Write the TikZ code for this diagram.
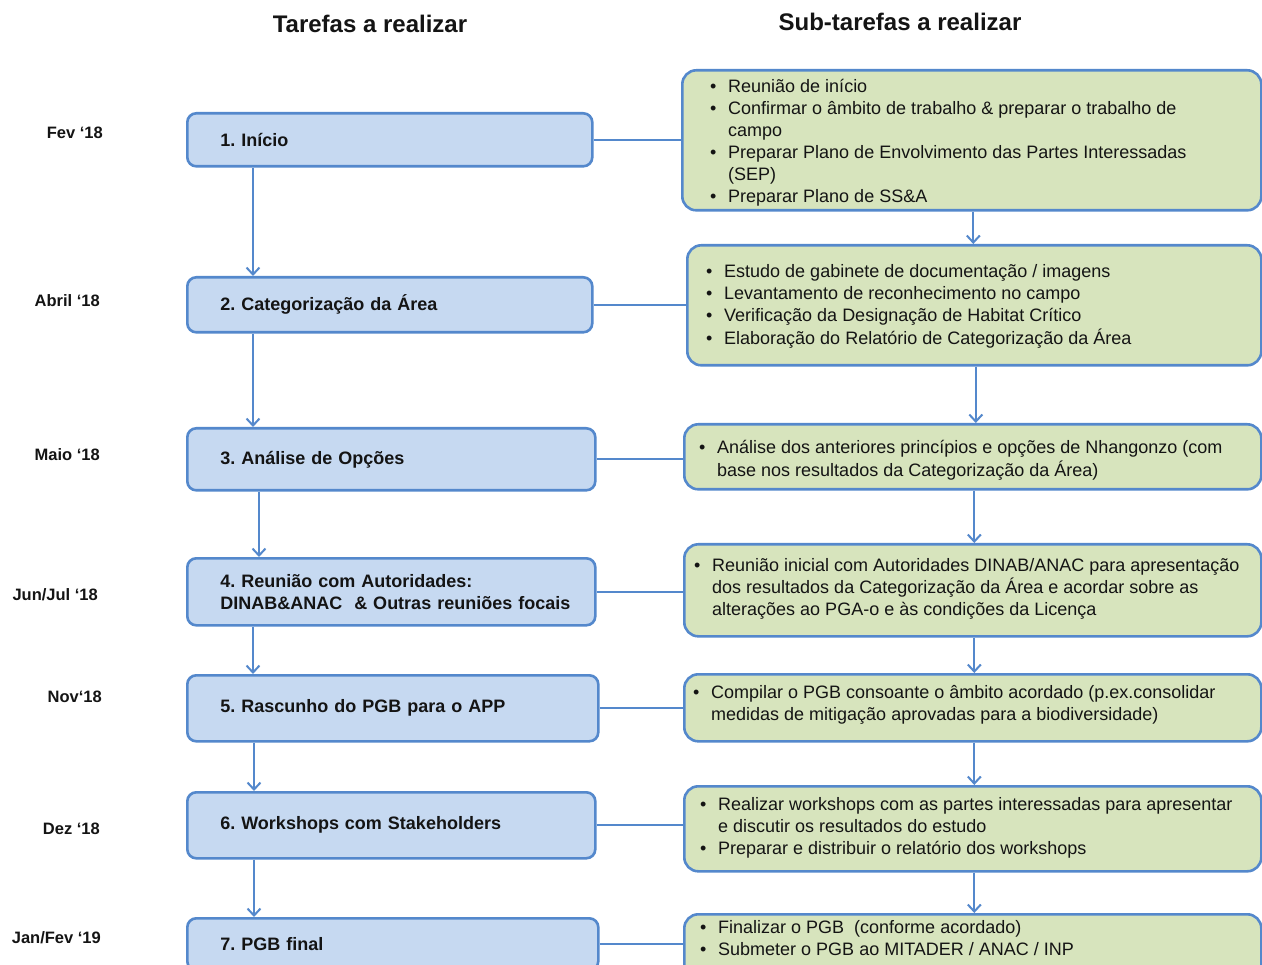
\documentclass[tikz,border=0pt]{standalone}
\usepackage{fontspec}
\setmainfont{Liberation Sans}
\usetikzlibrary{arrows.meta}
\definecolor{bordc}{RGB}{84,136,204}
\definecolor{bluef}{RGB}{198,217,241}
\definecolor{greenf}{RGB}{215,228,189}
\definecolor{txtc}{RGB}{20,20,20}
\newcommand\bu{\makebox[18pt][l]{•}}
\newcommand\nb{\hspace*{18pt}}
\frenchspacing
\tikzset{
  bluebox/.style n args={3}{draw=bordc, fill=bluef, line width=2.6pt, rounded corners=9pt,
    anchor=north west, minimum width=#1pt, minimum height=#2pt, inner sep=0pt,
    text width=#3pt, align=left, font=\fontsize{18}{22}\selectfont\bfseries, text=txtc},
  gbox/.style 2 args={draw=bordc, fill=greenf, line width=2.6pt, rounded corners=14pt,
    anchor=north west, minimum width=#1pt, minimum height=#2pt, inner sep=0pt},
  gtext/.style={anchor=base west, inner sep=0pt, font=\fontsize{18}{22}\selectfont, text=txtc},
  datelbl/.style={anchor=east, inner sep=0pt, font=\fontsize{16.5}{20}\selectfont\bfseries, text=txtc},
  head/.style={inner sep=0pt, font=\fontsize{24}{28}\selectfont\bfseries, text=txtc},
  conn/.style={draw=bordc, line width=2pt},
  arr/.style={conn, -{Straight Barb[length=7pt,width=13pt,line width=2pt]}},
}
\begin{document}
\begin{tikzpicture}[x=1pt,y=-1pt]
\clip (0,0) rectangle (1262,965);
\fill[white] (0,0) rectangle (1262,965);

% headers
\node[head] (h1) at (370,24) {Tarefas a realizar};
\node[head] (h2) at (900,22) {Sub-tarefas a realizar};

% dates
\node[datelbl] (d1) at (103,133) {Fev ‘18};
\node[datelbl] (d2) at (100,301) {Abril ‘18};
\node[datelbl] (d3) at (100,455) {Maio ‘18};
\node[datelbl] (d4) at (98,595) {Jun/Jul ‘18};
\node[datelbl] (d5) at (102,697) {Nov‘18};
\node[datelbl] (d6) at (100,829) {Dez ‘18};
\node[datelbl] (d7) at (101,938) {Jan/Fev ‘19};

% task boxes
\node[bluebox={405}{53}{339}] (t1) at (186,112) {1. Início\\[2pt]};
\node[bluebox={405}{55}{339}] (t2) at (186,276) {2. Categorização da Área};
\node[bluebox={408}{62}{342}] (t3) at (186,427) {3. Análise de Opções\\[6pt]};
\node[bluebox={408}{67}{342}] (t4) at (186,557) {\mbox{4. Reunião com Autoridades:}\\\mbox{DINAB\&ANAC \ \& Outras reuniões focais}};
\node[bluebox={411}{66}{345}] (t5) at (186,674) {5. Rascunho do PGB para o APP\\[6pt]};
\node[bluebox={408}{66}{342}] (t6) at (186,791) {6. Workshops com Stakeholders};
\node[bluebox={411}{52}{345}] (t7) at (186,917) {7. PGB final};

% sub-task boxes
\node[gbox={579}{140}] (g1) at (681,69) {};
\node[gbox={574}{120}] (g2) at (686,244) {};
\node[gbox={577}{65}] (g3) at (683,423) {};
\node[gbox={577}{92}] (g4) at (683,543) {};
\node[gbox={577}{67}] (g5) at (683,673) {};
\node[gbox={577}{85}] (g6) at (683,785) {};
\node[gbox={577}{75}] (g7) at (683,913) {};

\node[gtext] (g1t) at (710,93) {\begin{tabular}[t]{@{}l@{}}
\bu Reunião de início\\
\bu Confirmar o âmbito de trabalho \& preparar o trabalho de\\
\nb campo\\
\bu Preparar Plano de Envolvimento das Partes Interessadas\\
\nb (SEP)\\
\bu Preparar Plano de SS\&A
\end{tabular}};
\node[gtext] (g2t) at (706,278) {\begin{tabular}[t]{@{}l@{}}
\bu Estudo de gabinete de documentação / imagens\\
\bu Levantamento de reconhecimento no campo\\
\bu Verificação da Designação de Habitat Crítico\\
\bu Elaboração do Relatório de Categorização da Área
\end{tabular}};
\node[gtext] (g3t) at (699,454) {\begin{tabular}[t]{@{}l@{}}
\bu Análise dos anteriores princípios e opções de Nhangonzo (com\\
\nb base nos resultados da Categorização da Área)
\end{tabular}};
\node[gtext] (g4t) at (694,571) {\begin{tabular}[t]{@{}l@{}}
\bu Reunião inicial com Autoridades DINAB/ANAC para apresentação\\
\nb dos resultados da Categorização da Área e acordar sobre as\\
\nb alterações ao PGA-o e às condições da Licença
\end{tabular}};
\node[gtext] (g5t) at (693,698) {\begin{tabular}[t]{@{}l@{}}
\bu Compilar o PGB consoante o âmbito acordado (p.ex.consolidar\\
\nb medidas de mitigação aprovadas para a biodiversidade)
\end{tabular}};
\node[gtext] (g6t) at (700,810) {\begin{tabular}[t]{@{}l@{}}
\bu Realizar workshops com as partes interessadas para apresentar\\
\nb e discutir os resultados do estudo\\
\bu Preparar e distribuir o relatório dos workshops
\end{tabular}};
\node[gtext] (g7t) at (700,933) {\begin{tabular}[t]{@{}l@{}}
\bu Finalizar o PGB \ (conforme acordado)\\
\bu Submeter o PGB ao MITADER / ANAC / INP
\end{tabular}};

% horizontal connectors
\foreach \i in {1,...,7}{
  \draw[conn] (t\i.east) -- (t\i.east -| g\i.west);
}

% left arrows
\draw[arr] ([xshift=67pt]t1.south west) -- ([xshift=67pt]t1.south west |- t2.north);
\draw[arr] ([xshift=67pt]t2.south west) -- ([xshift=67pt]t2.south west |- t3.north);
\draw[arr] ([xshift=73pt]t3.south west) -- ([xshift=73pt]t3.south west |- t4.north);
\draw[arr] ([xshift=67pt]t4.south west) -- ([xshift=67pt]t4.south west |- t5.north);
\draw[arr] ([xshift=68pt]t5.south west) -- ([xshift=68pt]t5.south west |- t6.north);
\draw[arr] ([xshift=68pt]t6.south west) -- ([xshift=68pt]t6.south west |- t7.north);

% right arrows
\foreach \a/\b in {1/2,2/3,3/4,4/5,5/6,6/7}{
  \draw[arr] ([xshift=1.5pt]g\a.south) -- ([xshift=1.5pt]g\a.south |- g\b.north);
}
\end{tikzpicture}
\end{document}
